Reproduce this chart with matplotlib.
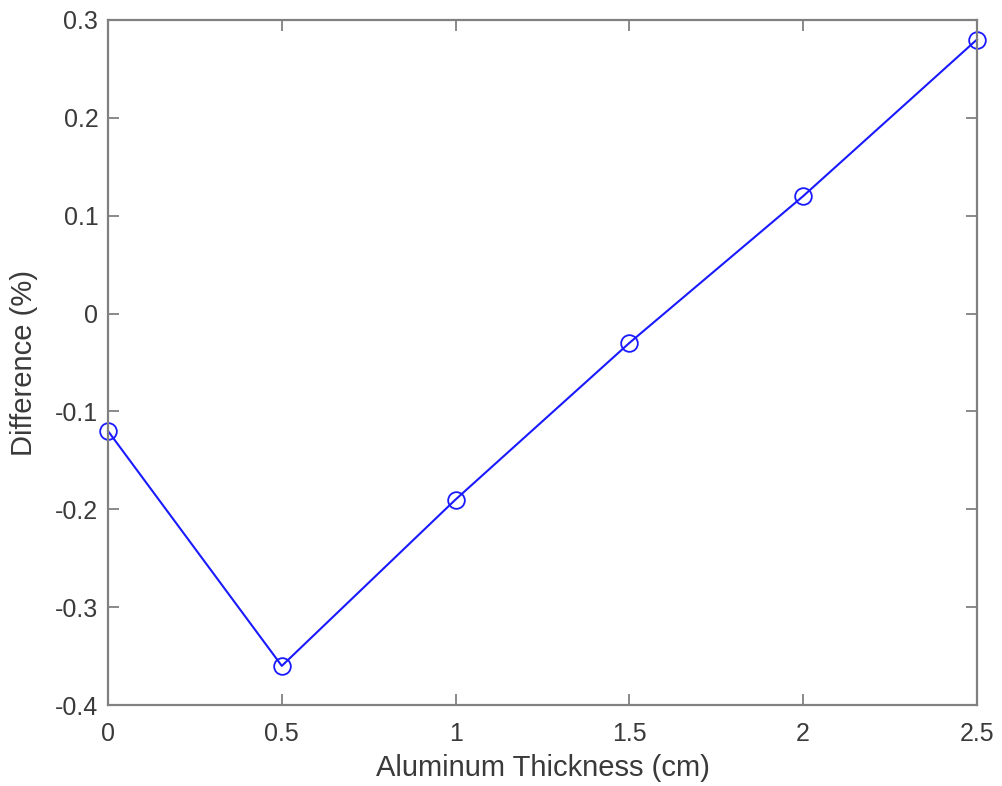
import matplotlib
matplotlib.use('Agg')
import matplotlib.pyplot as plt

# aluminum thickness vs. difference
thickness = [0, 0.5, 1, 1.5, 2, 2.5]
difference = [-0.12, -0.36, -0.19, -0.03, 0.12, 0.28]

plt.rcParams['font.family'] = ['Liberation Sans', 'DejaVu Sans']

fig = plt.figure(figsize=(10.02, 7.86), dpi=100)
ax = fig.add_axes([0.1078, 0.103, 0.8672, 0.8716])

ax.plot(thickness, difference, color='#1a1aff', lw=1.5, marker='o', clip_on=False,
        markersize=12, markerfacecolor='none', markeredgecolor='#1a1aff', markeredgewidth=1.3)

ax.set_xlim(0, 2.5)
ax.set_ylim(-0.4, 0.3)
ax.set_xticks([0, 0.5, 1, 1.5, 2, 2.5])
ax.set_xticklabels(['0', '0.5', '1', '1.5', '2', '2.5'])
ax.set_yticks([-0.4, -0.3, -0.2, -0.1, 0, 0.1, 0.2, 0.3])
ax.set_yticklabels(['-0.4', '-0.3', '-0.2', '-0.1', '0', '0.1', '0.2', '0.3'])

text_color = '#3a3a3a'
ax.tick_params(direction='in', length=8, width=1.3, colors='#808080',
               labelcolor=text_color, labelsize=18, top=True, right=True, pad=7)
ax.tick_params(axis='x', pad=12)
for spine in ax.spines.values():
    spine.set_color('#808080')
    spine.set_linewidth(1.6)

ax.set_xlabel('Aluminum Thickness (cm)', fontsize=21, color=text_color, labelpad=6)
ax.set_ylabel('Difference (%)', fontsize=21, color=text_color, labelpad=12)

fig.savefig('out.png', dpi=100)
